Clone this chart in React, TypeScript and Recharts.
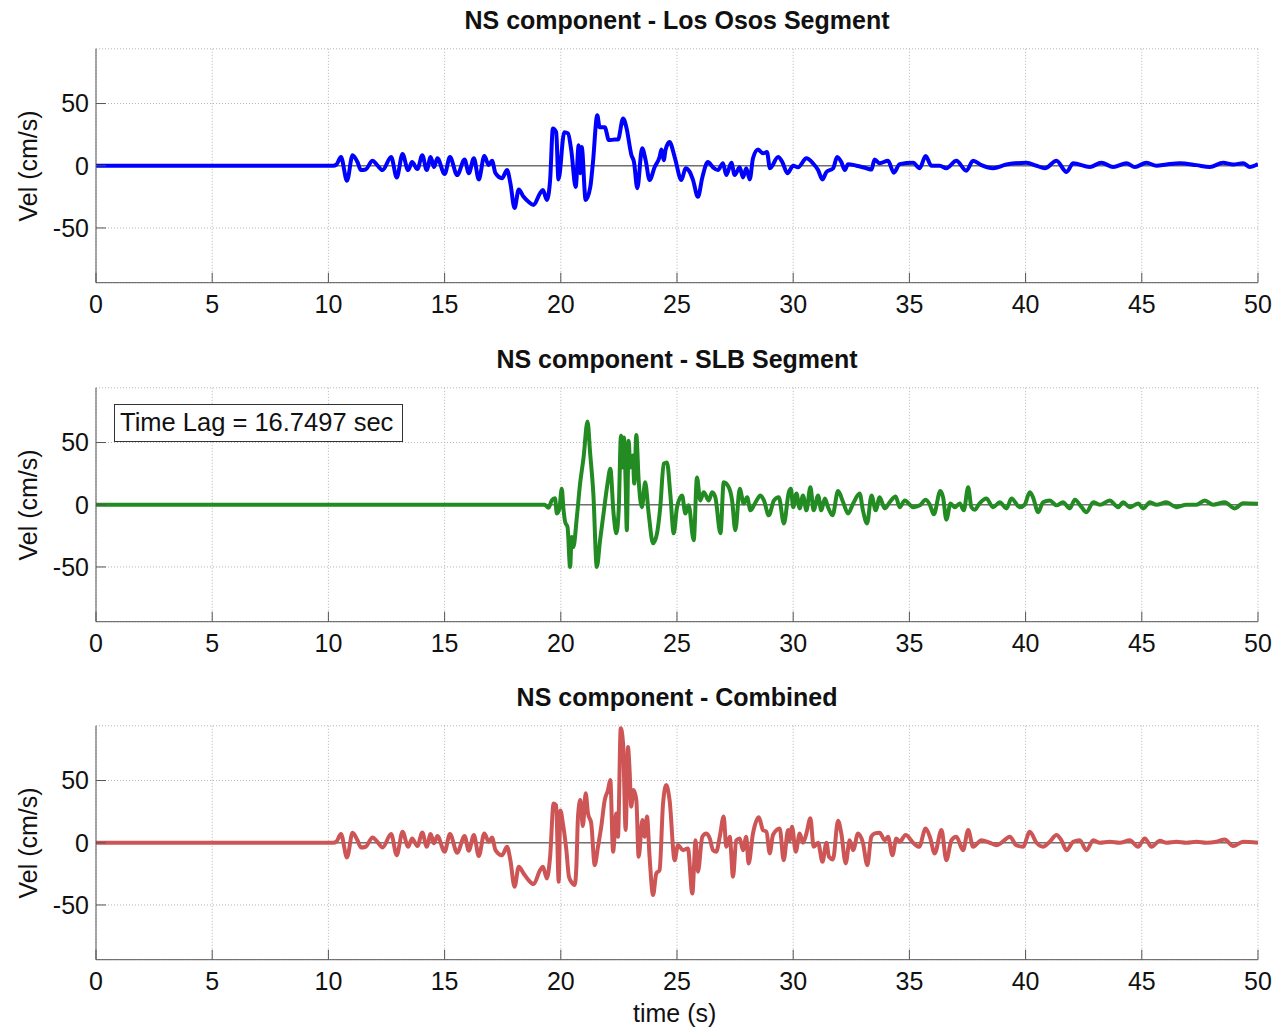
import { CartesianGrid, Line, LineChart, ReferenceLine, XAxis, YAxis } from "recharts";

const X_TICKS = [0, 5, 10, 15, 20, 25, 30, 35, 40, 45, 50];
const Y_TICKS = [-50, 0, 50];

// NS component - Los Osos Segment
const LOS_OSOS_T = [
  0, 10.2, 10.35, 10.54, 10.8, 11.04, 11.25, 11.4, 11.6, 11.9, 12.1, 12.33, 12.7, 12.94, 13.19, 13.43, 13.6,
  13.83, 14.04, 14.23, 14.4, 14.54, 14.69, 15.0, 15.23, 15.54, 15.86, 16.04, 16.26, 16.47, 16.71, 16.9, 17.04,
  17.19, 17.47, 17.69, 17.83, 18.01, 18.19, 18.4, 18.61, 18.83, 19.11, 19.23, 19.4, 19.54, 19.66, 19.8, 19.9,
  20.15, 20.31, 20.45, 20.64, 20.77, 20.84, 20.9, 21.07, 21.27, 21.38, 21.57, 21.67, 21.89, 22.07, 22.32, 22.46,
  22.68, 22.82, 23.04, 23.15, 23.29, 23.5, 23.65, 23.82, 24.04, 24.25, 24.33, 24.43, 24.51, 24.68, 24.9, 25.19,
  25.37, 25.55, 25.69, 25.9, 26.09, 26.33, 26.55, 26.76, 26.98, 27.12, 27.34, 27.48, 27.7, 27.84, 27.98, 28.13,
  28.27, 28.49, 28.7, 28.87, 29.0, 29.35, 29.53, 29.75, 30.0, 30.21, 30.57, 30.85, 31.07, 31.26, 31.43, 31.72,
  31.89, 32.07, 32.22, 32.36, 32.72, 33.15, 33.37, 33.5, 33.72, 34.08, 34.33, 34.58, 35.16, 35.44, 35.7, 35.95,
  36.31, 36.59, 37.02, 37.45, 37.74, 38.1, 38.6, 39.17, 40.04, 40.47, 40.83, 41.33, 41.76, 42.05, 42.76, 43.26,
  43.77, 44.34, 44.7, 45.2, 45.63, 46.06, 46.64, 47.35, 47.93, 48.5, 48.93, 49.36, 49.65, 50,
];
const LOS_OSOS_V = [
  0, 0, 1, 7, -12, 8.5, 3, -3.5, -3, 4, 0.5, -3.5, 7, -9.4, 9.4, -3.5, 3,
  -2.7, 8.5, -3.5, 7, -1, 6, -6.7, 7, -7.5, 5, -6, 6, -11, 7.8, 0.5, 4,
  -6, -10, -3.5, -14, -34, -19, -25, -29, -31.5, -22, -19.5, -27.5, -11.5, 30, 27, -11,
  27, 26, 12.5, -17, 16.5, -6, 15, -27.5, -17, 2, 40.6, 31, 31, 20.6, 21, 21,
  38, 31, 8.5, 3, -18, 14, 4.5, -11.5, -1, 7, 13, 4.5, 13, 19, 7, -11.5,
  -2, -5, -11.5, -25, -9.4, 3, -1.3, -3.5, 2, -7.5, 2.4, -7.5, -1.3, -9.4, -2, -11,
  6, 13, 10, 11, -2, 7, 3, -6, 0, -1.3, 6, 2, -3.5, -11, -5, -2,
  7, 3, -3.5, 1.3, 0, -2, -3, 5, 2, 4, -5.6, 1.3, 2.4, -2, 7.8, 0,
  0, -2, 4, -4, 4, 0.5, -2, 1, 2.4, 0, -2, 4, -5, 2, -1, 2.4,
  -1, 2, -1, 2.4, 0, 1, 2, 0.5, -1, 2.4, 1, 2, -1, 1.3,
];

// NS component - SLB Segment
const SLB_T = [
  0, 19.3, 19.47, 19.61, 19.75, 19.83, 19.94, 20.04, 20.12, 20.19, 20.29, 20.4, 20.47, 20.54, 20.69, 20.83, 20.98,
  21.15, 21.26, 21.4, 21.55, 21.69, 21.84, 22.01, 22.13, 22.27, 22.39, 22.49, 22.59, 22.65, 22.72, 22.79, 22.84,
  22.92, 22.99, 23.1, 23.16, 23.25, 23.35, 23.49, 23.63, 23.78, 23.97, 24.14, 24.28, 24.43, 24.57, 24.71, 24.86,
  25.0, 25.22, 25.36, 25.5, 25.72, 25.86, 26.0, 26.15, 26.37, 26.51, 26.65, 26.87, 27.01, 27.23, 27.37, 27.51,
  27.7, 27.87, 28.02, 28.16, 28.38, 28.59, 28.74, 28.95, 29.17, 29.38, 29.6, 29.81, 29.9, 30.0, 30.14, 30.28,
  30.42, 30.57, 30.74, 30.88, 31.07, 31.21, 31.36, 31.5, 31.69, 31.93, 32.15, 32.36, 32.58, 32.86, 33.0, 33.18,
  33.37, 33.55, 33.72, 33.94, 34.15, 34.41, 34.58, 34.8, 35.16, 35.45, 35.7, 35.88, 36.05, 36.33, 36.45, 36.59,
  36.77, 36.95, 37.17, 37.34, 37.53, 37.67, 37.81, 38.03, 38.31, 38.6, 38.89, 39.18, 39.39, 39.75, 39.96, 40.18,
  40.32, 40.54, 40.75, 41.04, 41.33, 41.61, 41.9, 42.12, 42.41, 42.62, 42.91, 43.2, 43.62, 43.98, 44.2, 44.48,
  44.85, 45.06, 45.35, 45.63, 46.06, 46.49, 46.92, 47.35, 47.71, 48.07, 48.57, 49.0, 49.36, 50,
];
const SLB_V = [
  0, 0, -2.4, 3.5, 5.3, -7, -3, 12.8, -4.5, -14, -18, -50, -26, -34, -10, 17, 38,
  67, 42, 9, -50, -28.5, -7, 17, 29, -7, -23, -4.5, 55.5, 30, 54, 17, -20.5,
  51.5, 30, 39.5, 17, 56, 19.5, -2, 18, -7, -31, -23, -2, 33, 34, 9, -23,
  -2, 7.5, -7, -0.5, -28.5, 22, 3.5, 10, 3.5, 10, 6, -23, 18, 14, 3.5, -20.5,
  12.8, 1, 6, -4.5, 2, 7.5, 3.5, -8.5, 3.5, 6, -15, 10, 12.8, -2, 9, -3,
  7.5, -4.5, 14, -4.5, 7.5, -4.5, 5, -2, -8.5, 11, 2, -7, 1, 9, -4.5, -15,
  7.5, -4.5, 6, -3, 2, 6.7, -2, 3.5, -2, -0.5, 4, 0, -7.7, 11, 6, -12,
  1, -2, 1, -4.5, 14, -2, -4, 1.3, 5, -2, 2, -3, 5, -2, 0, 10,
  6, -6, 2, 3.5, -0.5, 2, -3, 4, -2, -6, 2, 0, 3.5, -2, 2, -2,
  1, -3, 2, 0, 2, -2, 0, 0, 3.5, 0, 2, -3, 1.3, 0.8,
];

// NS component - Combined
const COMBINED_T = [
  0, 10.2, 10.35, 10.54, 10.8, 11.04, 11.25, 11.4, 11.6, 11.9, 12.1, 12.33, 12.7, 12.94, 13.19, 13.43, 13.6,
  13.83, 14.04, 14.23, 14.4, 14.54, 14.69, 15.0, 15.23, 15.54, 15.86, 16.04, 16.26, 16.47, 16.71, 16.9, 17.04,
  17.19, 17.47, 17.69, 17.83, 18.01, 18.19, 18.4, 18.61, 18.83, 19.11, 19.23, 19.4, 19.54, 19.69, 19.8, 19.91,
  19.98, 20.09, 20.24, 20.35, 20.5, 20.6, 20.67, 20.74, 20.84, 20.95, 21.07, 21.17, 21.31, 21.46, 21.6, 21.74,
  21.89, 22.03, 22.13, 22.25, 22.39, 22.46, 22.58, 22.68, 22.79, 22.89, 22.96, 23.03, 23.13, 23.25, 23.35, 23.51,
  23.61, 23.71, 23.82, 23.97, 24.11, 24.25, 24.4, 24.54, 24.68, 24.9, 25.04, 25.26, 25.47, 25.66, 25.8, 25.9,
  26.09, 26.26, 26.41, 26.55, 26.69, 26.84, 27.01, 27.12, 27.27, 27.41, 27.55, 27.7, 27.84, 27.98, 28.08, 28.27,
  28.52, 28.7, 28.85, 28.99, 29.13, 29.42, 29.59, 29.78, 29.85, 29.95, 30.11, 30.28, 30.42, 30.57, 30.74, 30.88,
  31.07, 31.26, 31.43, 31.54, 31.71, 31.93, 32.07, 32.26, 32.43, 32.58, 32.79, 33.0, 33.19, 33.36, 33.51, 33.72,
  33.94, 34.08, 34.27, 34.44, 34.58, 34.84, 35.16, 35.42, 35.7, 35.88, 36.09, 36.38, 36.59, 36.81, 37.02, 37.31,
  37.53, 37.74, 38.1, 38.46, 38.75, 38.96, 39.32, 39.6, 39.89, 40.18, 40.47, 40.75, 41.04, 41.33, 41.54, 41.76,
  42.05, 42.33, 42.62, 42.91, 43.19, 43.62, 44.05, 44.48, 44.84, 45.13, 45.42, 45.78, 46.06, 46.49, 46.92, 47.35,
  47.78, 48.21, 48.57, 48.93, 49.36, 50,
];
const COMBINED_V = [
  0, 0, 1, 7, -11.8, 8, 2, -3.8, -3.2, 4.3, 0.8, -3.8, 7, -10, 8.8, -3.2, 3.5,
  -2.7, 8.3, -3.2, 7, -0.5, 5.4, -7.2, 7, -8, 5.4, -6.4, 6.2, -10.7, 7.5, 0.8, 4.3,
  -5.9, -10, -3.2, -14, -35.4, -19.3, -24.7, -30, -33.2, -22, -19.3, -28.7, -11.3, 31.6, 30, -31.4,
  26, 15.5, -6, -27.3, -32.7, -34, -19.3, 21, 34.3, 13.4, 39.7, 23.6, 15.5, -18, -3.2, 12.9,
  34.3, 42.4, 50.4, -7.2, 23.6, 4.8, 92, 80, 10.2, 77, 58.4, 29, 42.4, 34.3, -11.3, 18.2,
  4.8, 21, -11.3, -42, -24.7, -22, 31.6, 46.4, 34.3, -14, -2, -6, -4.6, -40.8, 2, -23.3,
  4.8, 7.5, 3.5, -6, -7.2, 4.8, 21, -3.2, 4.8, -27.3, 2, 3.5, -6, 4.8, -16.6, 7.5,
  20.4, 10.2, 8.8, -8.6, 6.2, 11.5, -14, 10.2, 2, 12.9, -7.2, 7.5, 0, 7.5, 19.6, -3.2,
  0, -15.3, 0, -11.3, -13.4, 17.7, 7.5, -16.6, 2, -6, 7.5, 0, -18, 4.8, 7.5, 8,
  2, 4.8, -10, 3.5, 0.8, 6.2, 0, -3.2, 11.5, 4.8, -8.6, 10.2, -14, 2, 4.8, -6,
  10.2, -3.2, 2, 0, -2, 0, 4.8, -2, -3.2, 8.8, 0, -3.2, 0.8, 6.2, 2, -6,
  0.8, 2, -6, 2, 0, 0.8, 0, 2, -3.2, 3.5, -3.2, 1.6, 0, 0.8, 0, 0.8,
  0, 0.8, 2.7, -2.7, 0.8, 0,
];

const FONT = '"Liberation Sans", Arial, Helvetica, sans-serif';
const PANEL_H = 338.6;
const AXIS = "#555";

type PanelProps = {
  top: number;
  title: string;
  color: string;
  time: number[];
  vel: number[];
  children?: React.ReactNode;
};

function Panel({ top, title, color, time, vel, children }: PanelProps) {
  const data = time.map((t, i) => ({ t, v: vel[i] }));
  const tickStyle = { fill: "#111", fontSize: 25, fontFamily: FONT };
  return (
    <div style={{ position: "absolute", left: 0, top, width: 1277, height: PANEL_H }}>
      <div
        style={{
          position: "absolute",
          left: 96,
          width: 1162,
          top: 8.1,
          textAlign: "center",
          font: `bold 25px/25px ${FONT}`,
          color: "#111",
        }}
      >
        {title}
      </div>
      <div
        style={{
          position: "absolute",
          left: 27.7,
          top: 166,
          transform: "translate(-50%, -50%) rotate(-90deg)",
          whiteSpace: "nowrap",
          font: `25px/25px ${FONT}`,
          color: "#111",
        }}
      >
        Vel (cm/s)
      </div>
      <LineChart
        width={1277}
        height={PANEL_H}
        data={data}
        margin={{ top: 48.8, right: 19, bottom: 15.9, left: 0 }}
      >
        <CartesianGrid stroke="#b4b4b4" strokeDasharray="1 2" />
        <XAxis
          type="number"
          dataKey="t"
          domain={[0, 50]}
          ticks={X_TICKS}
          interval={0}
          height={40}
          tickSize={-10}
          tickMargin={23}
          stroke={AXIS}
          tick={tickStyle}
          allowDataOverflow
        />
        <XAxis
          xAxisId="top"
          orientation="top"
          type="number"
          dataKey="t"
          domain={[0, 50]}
          ticks={X_TICKS}
          interval={0}
          height={0}
          tickSize={-10}
          tickFormatter={() => ""}
          stroke={AXIS}
          allowDataOverflow
        />
        <YAxis
          type="number"
          domain={[-94, 94]}
          ticks={Y_TICKS}
          interval={0}
          width={96}
          tickSize={-10}
          tickMargin={17}
          stroke={AXIS}
          tick={tickStyle}
          allowDataOverflow
        />
        <YAxis
          yAxisId="right"
          orientation="right"
          type="number"
          domain={[-94, 94]}
          ticks={Y_TICKS}
          interval={0}
          width={0}
          tickSize={-10}
          tickFormatter={() => ""}
          stroke={AXIS}
          allowDataOverflow
        />
        <ReferenceLine y={0} stroke="#707070" strokeWidth={1.5} />
        <Line
          type="monotone"
          dataKey="v"
          stroke={color}
          strokeWidth={4}
          strokeLinejoin="round"
          dot={false}
          activeDot={false}
          isAnimationActive={false}
        />
      </LineChart>
      {children}
    </div>
  );
}

export default function App() {
  return (
    <div
      style={{
        position: "absolute",
        left: 0,
        top: 0,
        width: 1277,
        height: 1028,
        overflow: "hidden",
        background: "#fff",
        fontFamily: FONT,
      }}
    >
      <Panel top={0} title="NS component - Los Osos Segment" color="#0000ff" time={LOS_OSOS_T} vel={LOS_OSOS_V} />
      <Panel top={PANEL_H} title="NS component - SLB Segment" color="#228b22" time={SLB_T} vel={SLB_V}>
        <div
          style={{
            position: "absolute",
            left: 114,
            top: 65.4,
            width: 289,
            height: 37.7,
            boxSizing: "border-box",
            border: "1px solid #333",
            background: "#fff",
            paddingLeft: 5,
            font: `25.5px/35.7px ${FONT}`,
            color: "#111",
            whiteSpace: "nowrap",
          }}
        >
          Time Lag = 16.7497 sec
        </div>
      </Panel>
      <Panel top={PANEL_H * 2} title="NS component - Combined" color="#cd5555" time={COMBINED_T} vel={COMBINED_V} />
      <div
        style={{
          position: "absolute",
          left: 674.7,
          top: 1000.5,
          transform: "translateX(-50%)",
          whiteSpace: "nowrap",
          font: `25px/25px ${FONT}`,
          color: "#111",
        }}
      >
        time (s)
      </div>
    </div>
  );
}
